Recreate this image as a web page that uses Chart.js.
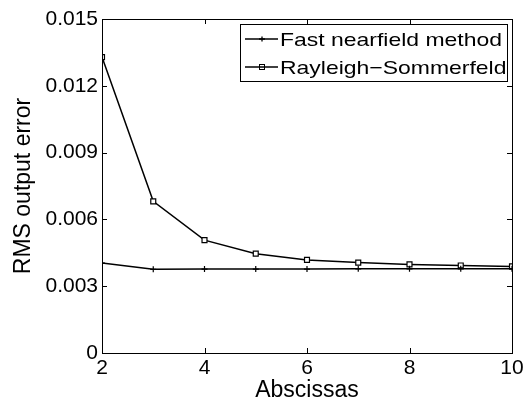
<!DOCTYPE html>
<html><head><meta charset="utf-8">
<script src="https://cdn.jsdelivr.net/npm/chart.js@4"></script>
<style>html,body{margin:0;padding:0;background:#fff}#wrap{width:530px;height:403px}</style>
</head><body><div id="wrap"><canvas id="c" width="530" height="403"></canvas></div>
<script>
const xValues = [2, 3, 4, 5, 6, 7, 8, 9, 10];
const fastNearfield = [0.00404, 0.00376, 0.00377, 0.00377, 0.00377, 0.00378, 0.00378, 0.00378, 0.00378];
const rayleighSommerfeld = [0.01329, 0.00681, 0.00507, 0.00446, 0.00418, 0.00406, 0.00398, 0.00393, 0.00389];
const xTickLabels = ['2', '4', '6', '8', '10'];
const yTickLabels = ['0', '0.003', '0.006', '0.009', '0.012', '0.015'];
const seriesNames = ['Fast nearfield method', 'Rayleigh\u2212Sommerfeld'];

const FONT = '"Liberation Sans", Arial, Helvetica, sans-serif';

const framePlugin = {
  id: 'frame',
  afterDatasetsDraw(chart) {
    const {ctx, chartArea: a, scales: {x, y}} = chart;
    ctx.save();
    ctx.strokeStyle = '#000';
    ctx.lineWidth = 1;
    ctx.strokeRect(Math.round(a.left) + 0.5, Math.round(a.top) + 0.5, Math.round(a.right - a.left), Math.round(a.bottom - a.top));
    const L = 5;
    ctx.beginPath();
    x.ticks.forEach(t => {
      const px = Math.round(x.getPixelForValue(t.value)) + 0.5;
      ctx.moveTo(px, a.bottom); ctx.lineTo(px, a.bottom - L);
      ctx.moveTo(px, a.top); ctx.lineTo(px, a.top + L);
    });
    y.ticks.forEach(t => {
      const py = Math.round(y.getPixelForValue(t.value)) + 0.5;
      ctx.moveTo(a.left, py); ctx.lineTo(a.left + L, py);
      ctx.moveTo(a.right, py); ctx.lineTo(a.right - L, py);
    });
    ctx.stroke();

    // legend box
    const bx = 240.5, by = 24.5, bw = 267, bh = 57;
    ctx.fillStyle = '#fff';
    ctx.fillRect(bx, by, bw, bh);
    ctx.strokeRect(bx, by, bw, bh);
    ctx.font = '19px ' + FONT;
    ctx.textBaseline = 'alphabetic';
    ctx.textAlign = 'left';
    const rows = [39, 67];
    const w0 = ctx.measureText(chart.data.datasets[0].label).width;
    const sx = 222 / w0;
    chart.data.datasets.forEach((ds, i) => {
      const ry = rows[i];
      ctx.beginPath();
      ctx.lineWidth = 1.3;
      ctx.moveTo(245, ry); ctx.lineTo(278, ry);
      ctx.stroke();
      if (i === 0) {
        ctx.beginPath();
        ctx.moveTo(259, ry); ctx.lineTo(265, ry);
        ctx.moveTo(262, ry - 2.5); ctx.lineTo(262, ry + 2.5);
        ctx.stroke();
      } else {
        ctx.lineWidth = 1;
        ctx.strokeRect(259.5, ry - 2.5, 5, 5);
      }
      ctx.fillStyle = '#000';
      ctx.save();
      ctx.translate(280, ry + 7);
      ctx.scale(sx, 1);
      ctx.fillText(ds.label, 0, 0);
      ctx.restore();
    });
    ctx.restore();
  }
};

new Chart(document.getElementById('c'), {
  type: 'line',
  data: {
    datasets: [
      {
        label: seriesNames[0],
        data: xValues.map((v, i) => ({x: v, y: fastNearfield[i]})),
        borderColor: '#000', backgroundColor: '#000', borderWidth: 1.5,
        pointStyle: 'cross', pointRadius: 3, pointBorderWidth: 1.2, tension: 0
      },
      {
        label: seriesNames[1],
        data: xValues.map((v, i) => ({x: v, y: rayleighSommerfeld[i]})),
        borderColor: '#000', backgroundColor: '#fff', borderWidth: 1.5,
        pointStyle: 'rect', pointRadius: 3.5, pointBorderWidth: 1.2, tension: 0
      }
    ]
  },
  options: {
    responsive: false,
    animation: false,
    layout: {padding: {left: 0, right: 18, top: 19, bottom: 0}},
    plugins: {legend: {display: false}, tooltip: {enabled: false}},
    scales: {
      x: {
        type: 'linear', min: 2, max: 10,
        grid: {display: false, drawTicks: false},
        border: {display: false},
        ticks: {
          stepSize: 2, color: '#000', padding: 3,
          font: {family: FONT, size: 21},
          callback: (v, i) => xTickLabels[i]
        },
        title: {display: true, text: 'Abscissas', color: '#000', font: {family: FONT, size: 23}, padding: {top: 0, bottom: -1}},
        afterFit: s => { s.height = 50; }
      },
      y: {
        type: 'linear', min: 0, max: 0.015,
        grid: {display: false, drawTicks: false},
        border: {display: false},
        ticks: {
          stepSize: 0.003, color: '#000', padding: 4,
          font: {family: FONT, size: 21},
          callback: (v, i) => yTickLabels[i]
        },
        title: {display: true, text: 'RMS output error', color: '#000', font: {family: FONT, size: 23}, padding: {top: 10, bottom: 0}},
        afterFit: s => { s.width = 102; }
      }
    }
  },
  plugins: [framePlugin]
});
</script>
</body></html>
